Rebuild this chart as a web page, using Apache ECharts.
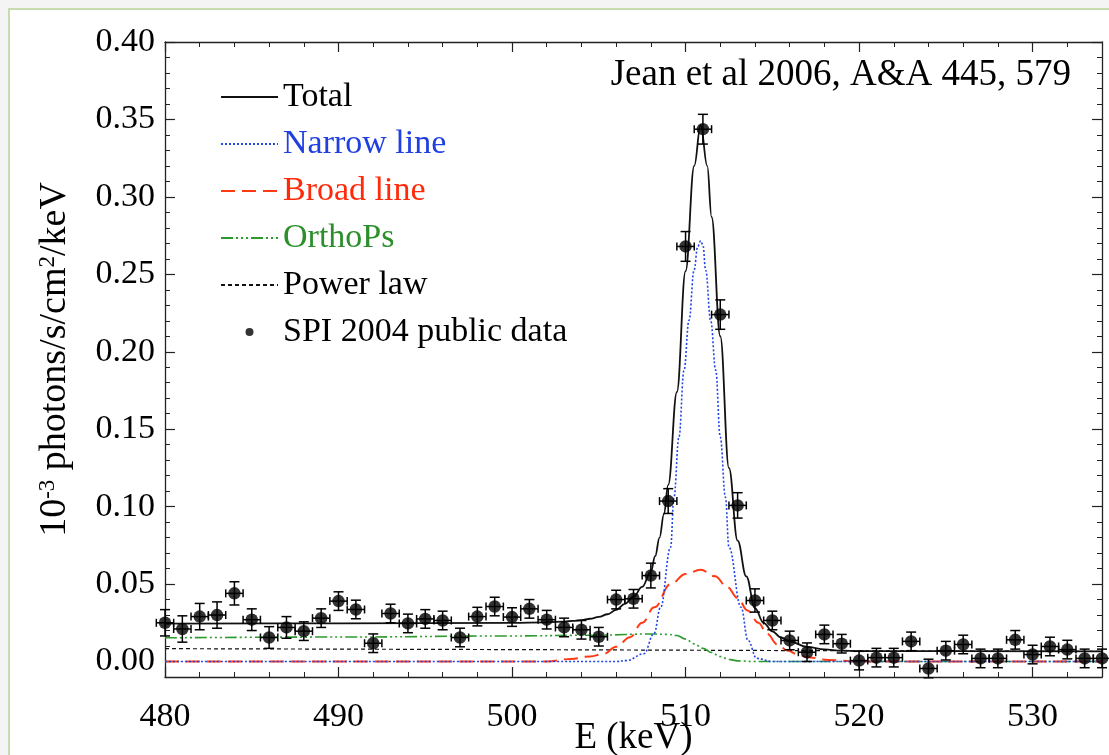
<!DOCTYPE html>
<html><head><meta charset="utf-8">
<script src="https://cdn.jsdelivr.net/npm/echarts@6/dist/echarts.min.js"></script>
<style>html,body{margin:0;padding:0;background:#f4f4f4}#c{width:1109px;height:755px}</style>
</head><body><div id="c"></div>
<script>
// ---- data points (SPI 2004 public data) ----
const energies = [480,481,482,483,484,485,486,487,488,489,490,491,492,493,494,495,496,497,498,499,
  500,501,502,503,504,505,506,507,508,509,510,511,512,513,514,515,516,517,518,519,
  520,521,522,523,524,525,526,527,528,529,530,531,532,533,534];
const flux = [0.025,0.021,0.029,0.030,0.044,0.027,0.0155,0.022,0.0196,0.028,0.039,0.0336,0.0118,0.031,0.0246,0.0275,0.0265,0.0155,0.029,0.0355,
  0.0287,0.034,0.027,0.022,0.0205,0.016,0.040,0.0405,0.0555,0.1036,0.268,0.3437,0.224,0.1008,0.0394,0.0265,0.0136,0.006,0.0175,0.0115,
  0.0006,0.0025,0.0025,0.013,-0.0045,0.007,0.011,0.002,0.002,0.014,0.0045,0.0097,0.0077,0.002,0.002];
const fluxErr = [0.0085,0.0085,0.0085,0.0085,0.0075,0.007,0.007,0.007,0.006,0.006,0.006,0.006,0.006,0.006,0.006,0.006,0.006,0.006,0.006,0.006,
  0.006,0.006,0.006,0.006,0.006,0.006,0.006,0.006,0.008,0.008,0.0096,0.0096,0.0095,0.0082,0.0075,0.006,0.006,0.006,0.006,0.006,
  0.006,0.006,0.006,0.006,0.006,0.006,0.006,0.006,0.006,0.006,0.006,0.006,0.006,0.006,0.006];
const binHalfWidth = 0.5;

// ---- model curves ----
const totalE = [480,490,500,502,503,503.5,504,504.5,505,505.5,506,506.5,507,507.5,508,508.25,508.5,508.75,509,509.5,510,510.5,510.87,511.25,511.5,512,512.5,513,513.5,514,514.5,515,515.5,516,517,518,519,520,534];
const totalF = [0.0244,0.0246,0.0250,0.0253,0.0258,0.0262,0.0267,0.0276,0.0288,0.0305,0.0333,0.0372,0.0418,0.0482,0.0580,0.0680,0.0800,0.0950,0.1140,0.1740,0.2520,0.3200,0.3463,0.3200,0.2870,0.2100,0.1250,0.0780,0.0550,0.0345,0.0250,0.0195,0.0155,0.0130,0.0095,0.0078,0.0070,0.0067,0.0065];

const narrowE = [480,506,506.6,507.6,508.18,508.56,509.14,509.33,509.62,509.91,510.2,510.49,510.7,510.87,511.0,511.16,511.45,511.74,512.0,512.3,512.5,513.2,513.6,514.1,515,534];
const narrowF = [0,0,0.0006,0.005,0.0179,0.035,0.0738,0.106,0.145,0.188,0.2203,0.2526,0.2680,0.2716,0.2690,0.2526,0.22,0.188,0.145,0.106,0.0738,0.035,0.0136,0.002,0,0];

const broadE = [480,502,503.4,504.5,505.3,506,506.8,507.5,508.2,509.14,510,510.87,511.7,512.4,513,513.57,514.2,514.7,515.3,515.87,516.5,517,518.2,520,534];
const broadF = [0,0,0.0017,0.0033,0.005,0.0095,0.0157,0.025,0.035,0.050,0.0565,0.0592,0.055,0.048,0.041,0.033,0.025,0.0179,0.011,0.0071,0.0045,0.0028,0.001,0,0];

const orthoE = [480,490,500,505,508,509,509.5,510,510.5,511,511.5,512,512.5,513,514,534];
const orthoF = [0.0153,0.0158,0.0165,0.0170,0.0178,0.0175,0.0168,0.0145,0.0114,0.0085,0.0058,0.0032,0.0014,0.0004,0,0];

const powerE = [480,500,510,520,534];
const powerF = [0.0083,0.0077,0.0073,0.0069,0.0065];

// ---- axis ticks ----
const xTicks = [480,490,500,510,520,530];
const yTicks = [0.00,0.05,0.10,0.15,0.20,0.25,0.30,0.35,0.40];

const FONT = 'Liberation Serif';
const AX = '#222';
const pairs = (xs, ys) => xs.map((x, i) => [x, ys[i]]);

const xMin = 480, xMax = 534, yMin = -0.01, yMax = 0.40;

function xAxisMinor(pos) {
  return {type:'value', position:pos, min:xMin, max:xMax, interval:2,
    axisLine:{show:true, onZero:false, lineStyle:{color:AX, width:1.3}},
    axisTick:{show:true, inside:true, length:5, lineStyle:{color:AX, width:1}},
    axisLabel:{show:false}, splitLine:{show:false}};
}
function xAxisMajor(pos, labels) {
  return {type:'value', position:pos, min:xMin, max:xMax,
    axisLine:{show:false, onZero:false},
    axisTick:{show:true, inside:true, length:10, customValues:xTicks, lineStyle:{color:AX, width:1.2}},
    axisLabel:labels ? {show:true, customValues:xTicks, fontFamily:FONT, fontSize:34, color:'#000', margin:23} : {show:false},
    splitLine:{show:false}};
}
function yAxisMinor(pos) {
  return {type:'value', position:pos, min:yMin, max:yMax, interval:0.01,
    axisLine:{show:true, onZero:false, lineStyle:{color:AX, width:1.3}},
    axisTick:{show:true, inside:true, length:5, lineStyle:{color:AX, width:1}},
    axisLabel:{show:false}, splitLine:{show:false}};
}
function yAxisMajor(pos, labels) {
  return {type:'value', position:pos, min:yMin, max:yMax,
    axisLine:{show:false, onZero:false},
    axisTick:{show:true, inside:true, length:10, customValues:yTicks, lineStyle:{color:AX, width:1.2}},
    axisLabel:labels ? {show:true, customValues:yTicks, fontFamily:FONT, fontSize:34, color:'#000', margin:10,
      formatter:v => v.toFixed(2)} : {show:false},
    splitLine:{show:false}};
}

const xAxes = [xAxisMinor('bottom'), xAxisMajor('bottom', true), xAxisMinor('top'), xAxisMajor('top', false)];
xAxes[1].name = 'E (keV)';
xAxes[1].nameLocation = 'middle';
xAxes[1].nameGap = 43;
xAxes[1].nameMoveOverlap = false;
xAxes[1].nameTextStyle = {fontFamily:FONT, fontSize:37, color:'#000'};

const yAxes = [yAxisMinor('left'), yAxisMajor('left', true), yAxisMinor('right'), yAxisMajor('right', false)];
yAxes[1].name = '10{sup|-3} photons/s/cm{sup|2}/keV';
yAxes[1].nameLocation = 'middle';
yAxes[1].nameGap = 91;
yAxes[1].nameTextStyle = {fontFamily:FONT, fontSize:38, color:'#000', lineHeight:38,
  rich:{sup:{fontFamily:FONT, fontSize:23, color:'#000', verticalAlign:'top', lineHeight:38, padding:[0,0,16,0]}}};

const errorData = energies.map((e, i) => [e, flux[i], fluxErr[i]]);
const hidden = {opacity:0};

const option = {
  backgroundColor:'#f4f4f4',
  animation:false,
  graphic:[{type:'rect', z:-10, shape:{x:9, y:9, width:1200, height:800},
    style:{fill:'#ffffff', stroke:'#c8dbb0', lineWidth:2}}],
  title:{text:'Jean et al 2006, A&A 445, 579', right:38, top:57, padding:0,
    textStyle:{fontFamily:FONT, fontSize:37, fontWeight:'normal', color:'#000'}},
  grid:{left:165, right:7, top:42, bottom:78, containLabel:false, outerBoundsMode:'none'},
  xAxis:xAxes,
  yAxis:yAxes,
  legend:{orient:'vertical', left:220, top:79, padding:0, itemWidth:57, itemHeight:8, itemGap:11, selectedMode:false,
    textStyle:{fontFamily:FONT, fontSize:34, lineHeight:36, color:'#000'},
    data:[
      {name:'Total', itemStyle:hidden},
      {name:'Narrow line', itemStyle:hidden, textStyle:{color:'#1f3fe0'}},
      {name:'Broad line', itemStyle:hidden, textStyle:{color:'#ff2a0a'}},
      {name:'OrthoPs', itemStyle:hidden, textStyle:{color:'#2c8f2c'}},
      {name:'Power law', itemStyle:hidden},
      {name:'SPI 2004 public data'}
    ]},
  series:[
    {name:'Power law', type:'line', data:pairs(powerE, powerF), symbol:'none', smooth:false, z:3,
      itemStyle:{color:'rgba(0,0,0,0)'}, lineStyle:{color:'#111', width:1.2, type:[4,3]}},
    {name:'OrthoPs', type:'line', data:pairs(orthoE, orthoF), symbol:'none', smooth:0.4, smoothMonotone:'x', z:3,
      itemStyle:{color:'rgba(0,0,0,0)'}, lineStyle:{color:'#2c9a2c', width:1.6, type:[12,3,2,3,2,3,2,3]}},
    {name:'Broad line', type:'line', data:pairs(broadE, broadF), symbol:'none', smooth:0.4, smoothMonotone:'x', z:3,
      itemStyle:{color:'rgba(0,0,0,0)'}, lineStyle:{color:'#ff3a14', width:2, type:[14,7]}},
    {name:'Narrow line', type:'line', data:pairs(narrowE, narrowF), symbol:'none', smooth:0.4, smoothMonotone:'x', z:3,
      itemStyle:{color:'rgba(0,0,0,0)'}, lineStyle:{color:'#2146e6', width:1.6, type:[2,2]}},
    {name:'Total', type:'line', data:pairs(totalE, totalF), symbol:'none', smooth:0.4, smoothMonotone:'x', z:4,
      itemStyle:{color:'rgba(0,0,0,0)'}, lineStyle:{color:'#111', width:1.8, type:'solid'}},
    {name:'errors', type:'custom', data:errorData, z:5, clip:false,
      renderItem:(params, api) => {
        const e = api.value(0), f = api.value(1), er = api.value(2);
        const l = api.coord([e - binHalfWidth, f]);
        const r = api.coord([e + binHalfWidth, f]);
        const t = api.coord([e, f + er]);
        const b = api.coord([e, f - er]);
        const st = {stroke:'#000', lineWidth:1.5};
        const cap = 4, capv = 5;
        return {type:'group', children:[
          {type:'line', shape:{x1:l[0], y1:l[1], x2:r[0], y2:r[1]}, style:st},
          {type:'line', shape:{x1:l[0], y1:l[1]-cap, x2:l[0], y2:l[1]+cap}, style:st},
          {type:'line', shape:{x1:r[0], y1:r[1]-cap, x2:r[0], y2:r[1]+cap}, style:st},
          {type:'line', shape:{x1:t[0], y1:t[1], x2:b[0], y2:b[1]}, style:st},
          {type:'line', shape:{x1:t[0]-capv, y1:t[1], x2:t[0]+capv, y2:t[1]}, style:st},
          {type:'line', shape:{x1:b[0]-capv, y1:b[1], x2:b[0]+capv, y2:b[1]}, style:st}
        ]};
      }},
    {name:'SPI 2004 public data', type:'scatter', data:pairs(energies, flux), symbol:'circle', symbolSize:12.5, z:6, clip:false,
      itemStyle:{color:'#000'}}
  ]
};
const chart = echarts.init(document.getElementById('c'));
chart.setOption(option);
</script>
</body></html>
